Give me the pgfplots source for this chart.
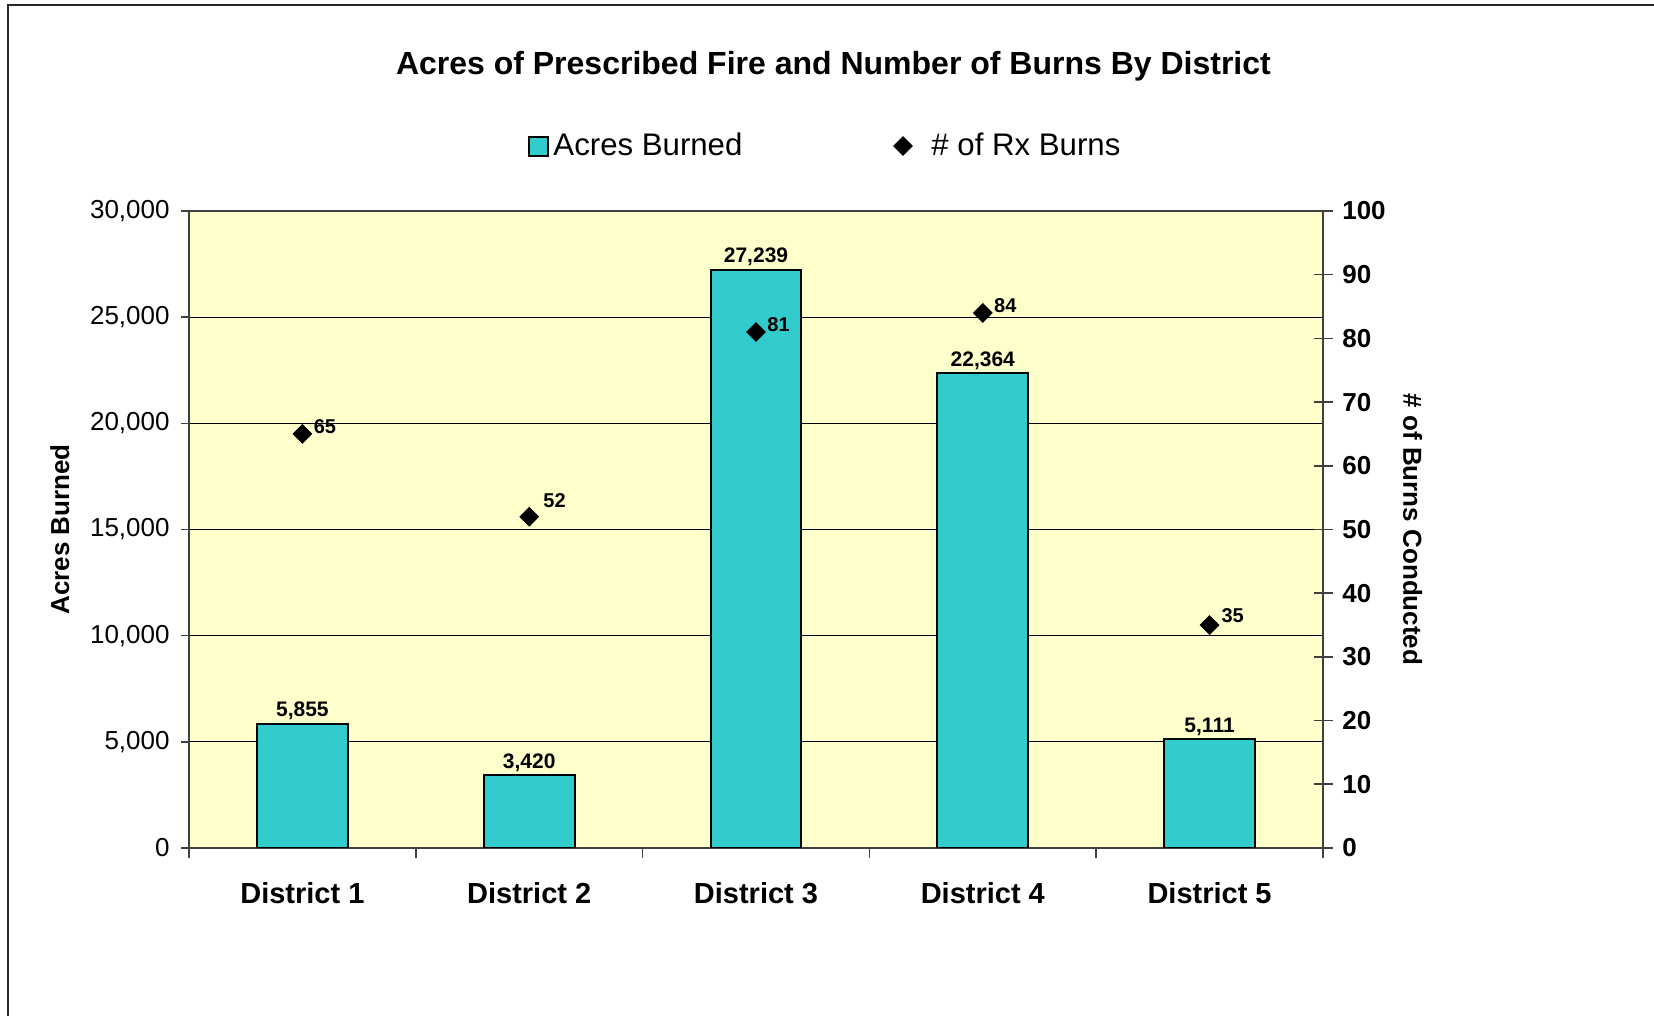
\documentclass[border=0pt]{standalone}
\usepackage{pgfplots}
\pgfplotsset{compat=1.18}
\usepackage{fontspec}
\setmainfont{Liberation Sans}
\definecolor{barcol}{HTML}{33CCCC}
\definecolor{bgcol}{HTML}{FFFFCC}
\pgfplotsset{/pgf/number format/assume math mode=true,
  sqlegend/.style={legend image code/.code={\draw[##1, line width=1pt] (0pt,-4.75pt) rectangle (9.5pt,4.75pt);}},
  dmlegend/.style={legend image code/.code={\path[draw=none, fill=none] (0pt,-4pt) (16.2pt,4pt); \draw[##1] plot[only marks] coordinates {(4pt,0pt)};}},
}
\pgfplotstableread{
x y dx dy
0 65 5.5 3.85
1 52 6.9 7.9
2 81 5.5 3.85
3 84 5.5 3.85
4 35 5.8 4.7
}\burns
\begin{document}
\begin{tikzpicture}
\useasboundingbox (0,0) rectangle (827pt,508pt);
\draw[line width=1pt, black!85] (4pt,-5pt) -- (4pt,505.5pt) -- (840pt,505.5pt);
\begin{axis}[
  at={(94.5pt,84pt)}, anchor=south west,
  scale only axis, width=567pt, height=318.5pt,
  xmin=-0.5, xmax=4.5, ymin=0, ymax=30000,
  axis background/.style={fill=bgcol},
  axis line style={draw=black!75, line width=0.8pt},
  bar width=0.4,
  xtick={0,1,2,3,4},
  xticklabels={District 1,District 2,District 3,District 4,District 5},
  major x tick style={draw=none},
  minor xtick={-0.5,0.5,1.5,2.5,3.5,4.5},
  minor x tick style={draw=black!75, line width=0.8pt},
  ytick style={draw=black!75, line width=0.8pt},
  xtick pos=bottom, ytick pos=left,
  tick align=outside,
  major tick length=4pt, minor tick length=5pt,
  ytick={0,5000,...,30000},
  scaled y ticks=false,
  /pgf/number format/1000 sep={,},
  yticklabel style={font=\fontsize{13}{15}\selectfont, anchor=east, inner sep=0pt, xshift=-5.5pt},
  xticklabel style={font=\bfseries\fontsize{14.5}{17}\selectfont, anchor=base, inner sep=0pt, yshift=-23.6pt},
  ymajorgrids, grid style={black, line width=0.5pt},
  ylabel={Acres Burned},
  ylabel style={font=\bfseries\fontsize{13}{15}\selectfont, at={(axis description cs:-0.1138,0.5)}, anchor=center},
  title={Acres of Prescribed Fire and Number of Burns By District},
  title style={font=\bfseries\fontsize{16}{19}\selectfont, at={(axis description cs:0.5683,1.1952)}, anchor=base, inner sep=0pt},
  legend style={draw=none, fill=none, at={(0.2937,1.1019)}, anchor=west, legend columns=2,
    font=\fontsize{15.6}{18}\selectfont,
    /tikz/every even column/.append style={column sep=73.6pt},
    nodes={inner sep=2pt}},
  legend cell align=left,
]
\addplot[ybar, fill=barcol, draw=black, line width=1pt, sqlegend,
  nodes near coords,
  nodes near coords style={font=\bfseries\fontsize{10.5}{12}\selectfont, anchor=base, inner sep=0pt, yshift=3.5pt}]
  coordinates {(0,5855) (1,3420) (2,27239) (3,22364) (4,5111)};
\addlegendentry{Acres Burned}
\addlegendimage{black, only marks, mark=square*, mark size=3.3pt, mark options={rotate=45, fill=black}, dmlegend}
\addlegendentry{\# of Rx Burns}
\end{axis}
\begin{axis}[
  at={(94.5pt,84pt)}, anchor=south west,
  scale only axis, width=567pt, height=318.5pt,
  xmin=-0.5, xmax=4.5, ymin=0, ymax=100,
  axis x line=none, axis y line*=right,
  axis line style={draw=black!75, line width=0.8pt},
  ytick={0,10,...,100},
  tick align=center, major tick length=9.5pt,
  ytick style={draw=black!75, line width=0.8pt},
  yticklabel style={font=\bfseries\fontsize{13}{15}\selectfont, anchor=west, inner sep=0pt, xshift=4.7pt},
  ylabel={\# of Burns Conducted},
  ylabel style={font=\bfseries\fontsize{13}{15}\selectfont, at={(axis description cs:1.079,0.5)}, rotate=180, anchor=center},
]
\addplot[only marks, black, mark=square*, mark size=3.3pt, mark options={rotate=45, fill=black},
  visualization depends on={\thisrow{dx} \as \ldx},
  visualization depends on={\thisrow{dy} \as \ldy},
  nodes near coords,
  nodes near coords style={font=\bfseries\fontsize{10}{12}\selectfont, anchor=west, inner sep=0pt, xshift=\ldx pt, yshift=\ldy pt}]
  table[x=x, y=y] {\burns};
\end{axis}
\end{tikzpicture}
\end{document}
